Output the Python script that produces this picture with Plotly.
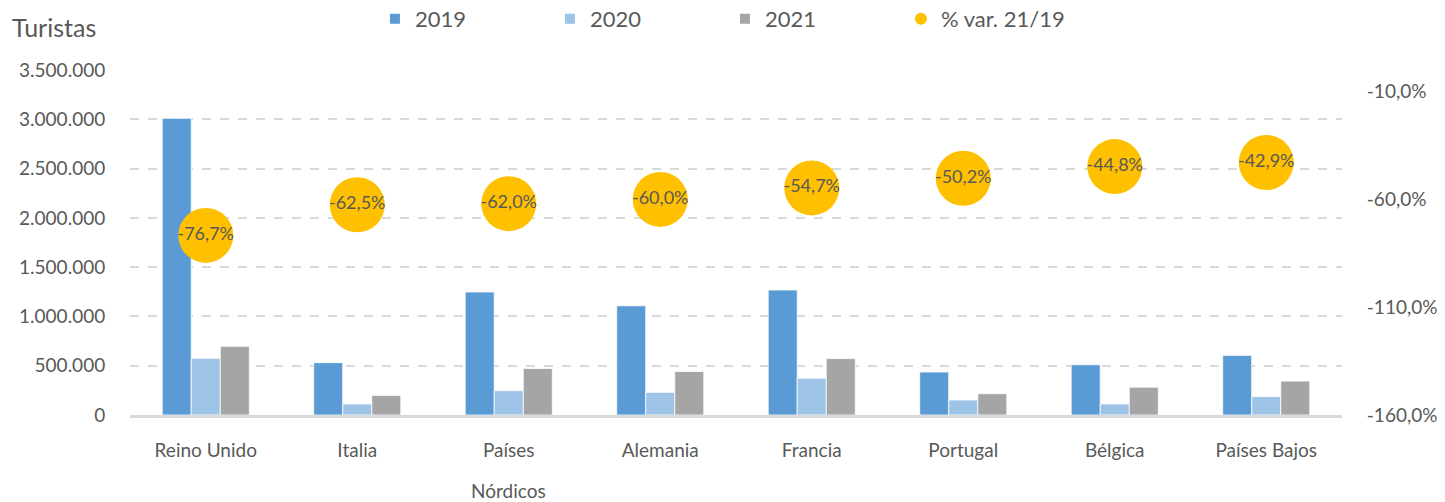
import plotly.graph_objects as go

categories = ["Reino Unido", "Italia", "Países Nórdicos", "Alemania", "Francia", "Portugal", "Bélgica", "Países Bajos"]
tick_labels = ["Reino Unido", "Italia", "Países", "Alemania", "Francia", "Portugal", "Bélgica", "Países Bajos"]
v2019 = [3010000, 531000, 1248000, 1108000, 1268000, 436000, 510000, 605000]
v2020 = [575000, 112000, 247000, 230000, 373000, 152000, 112000, 186000]
v2021 = [697000, 199000, 472000, 441000, 572000, 216000, 282000, 344000]
pct_var = [-76.7, -62.5, -62.0, -60.0, -54.7, -50.2, -44.8, -42.9]
pct_ticks = [-160, -110, -60, -10]
pct_tick_labels = [f"{v:.1f}%".replace(".", ",") for v in pct_ticks]

FONT = "Lato"
GREY = "#595959"

fig = go.Figure()
fig.add_trace(go.Bar(name="2019", x=categories, y=v2019, legend="legend",
                     marker=dict(color="#5B9BD5", line=dict(color="#ffffff", width=0.8))))
fig.add_trace(go.Bar(name="2020", x=categories, y=v2020, legend="legend2",
                     marker=dict(color="#9DC3E6", line=dict(color="#ffffff", width=0.8))))
fig.add_trace(go.Bar(name="2021", x=categories, y=v2021, legend="legend3",
                     marker=dict(color="#A5A5A5", line=dict(color="#ffffff", width=0.8))))
fig.add_trace(go.Scatter(
    name="% var. 21/19", x=categories, y=pct_var, yaxis="y2", legend="legend4",
    mode="markers+text", marker=dict(color="#FFC000", size=55),
    texttemplate="%{y:.1f}%", textposition="middle center",
    textfont=dict(family=FONT, size=18, color=GREY),
))

def leg(x):
    return dict(orientation="h", x=x, xanchor="left", y=1.1478, yanchor="middle",
                font=dict(family=FONT, size=22, color=GREY), itemsizing="constant",
                itemwidth=30, bgcolor="rgba(0,0,0,0)")

fig.update_layout(
    width=1437, height=494,
    margin=dict(l=122, r=103, t=62, b=87, autoexpand=False),
    paper_bgcolor="white", plot_bgcolor="white",
    separators=",.",
    font=dict(family=FONT, size=19, color=GREY),
    barmode="group", bargap=0.425, bargroupgap=0,
    showlegend=True,
    legend=leg(0.2021), legend2=leg(0.3465), legend3=leg(0.4909), legend4=leg(0.6361),
    xaxis=dict(tickmode="array", tickvals=categories, ticktext=tick_labels,
               range=[-0.5, len(categories) - 0.5],
               showline=True, linecolor="#D9D9D9", linewidth=2.5,
               ticks="outside", ticklen=16, tickcolor="rgba(0,0,0,0)",
               showgrid=False, tickfont=dict(family=FONT, size=19, color=GREY)),
    yaxis=dict(range=[0, 3500000], dtick=500000, tickformat=",d",
               showgrid=True, gridcolor="#D9D9D9", gridwidth=1.5, griddash="dash",
               zeroline=False, ticks="outside", ticklen=20, tickcolor="rgba(0,0,0,0)",
               tickfont=dict(family=FONT, size=19, color=GREY)),
    yaxis2=dict(overlaying="y", side="right", range=[-160, 0],
                tickmode="array", tickvals=pct_ticks, ticktext=pct_tick_labels,
                showgrid=False, zeroline=False,
                ticks="outside", ticklen=20, tickcolor="rgba(0,0,0,0)",
                tickfont=dict(family=FONT, size=19, color=GREY)),
    annotations=[
        dict(text="Turistas", xref="paper", yref="paper", x=-0.099, y=1.1246,
             xanchor="left", yanchor="middle", showarrow=False,
             font=dict(family=FONT, size=25, color=GREY)),
        dict(text="Nórdicos", xref="x", yref="paper", x="Países Nórdicos", y=-0.2174,
             xanchor="center", yanchor="middle", showarrow=False,
             font=dict(family=FONT, size=19, color=GREY)),
    ],
)

fig.write_html("out.html")
